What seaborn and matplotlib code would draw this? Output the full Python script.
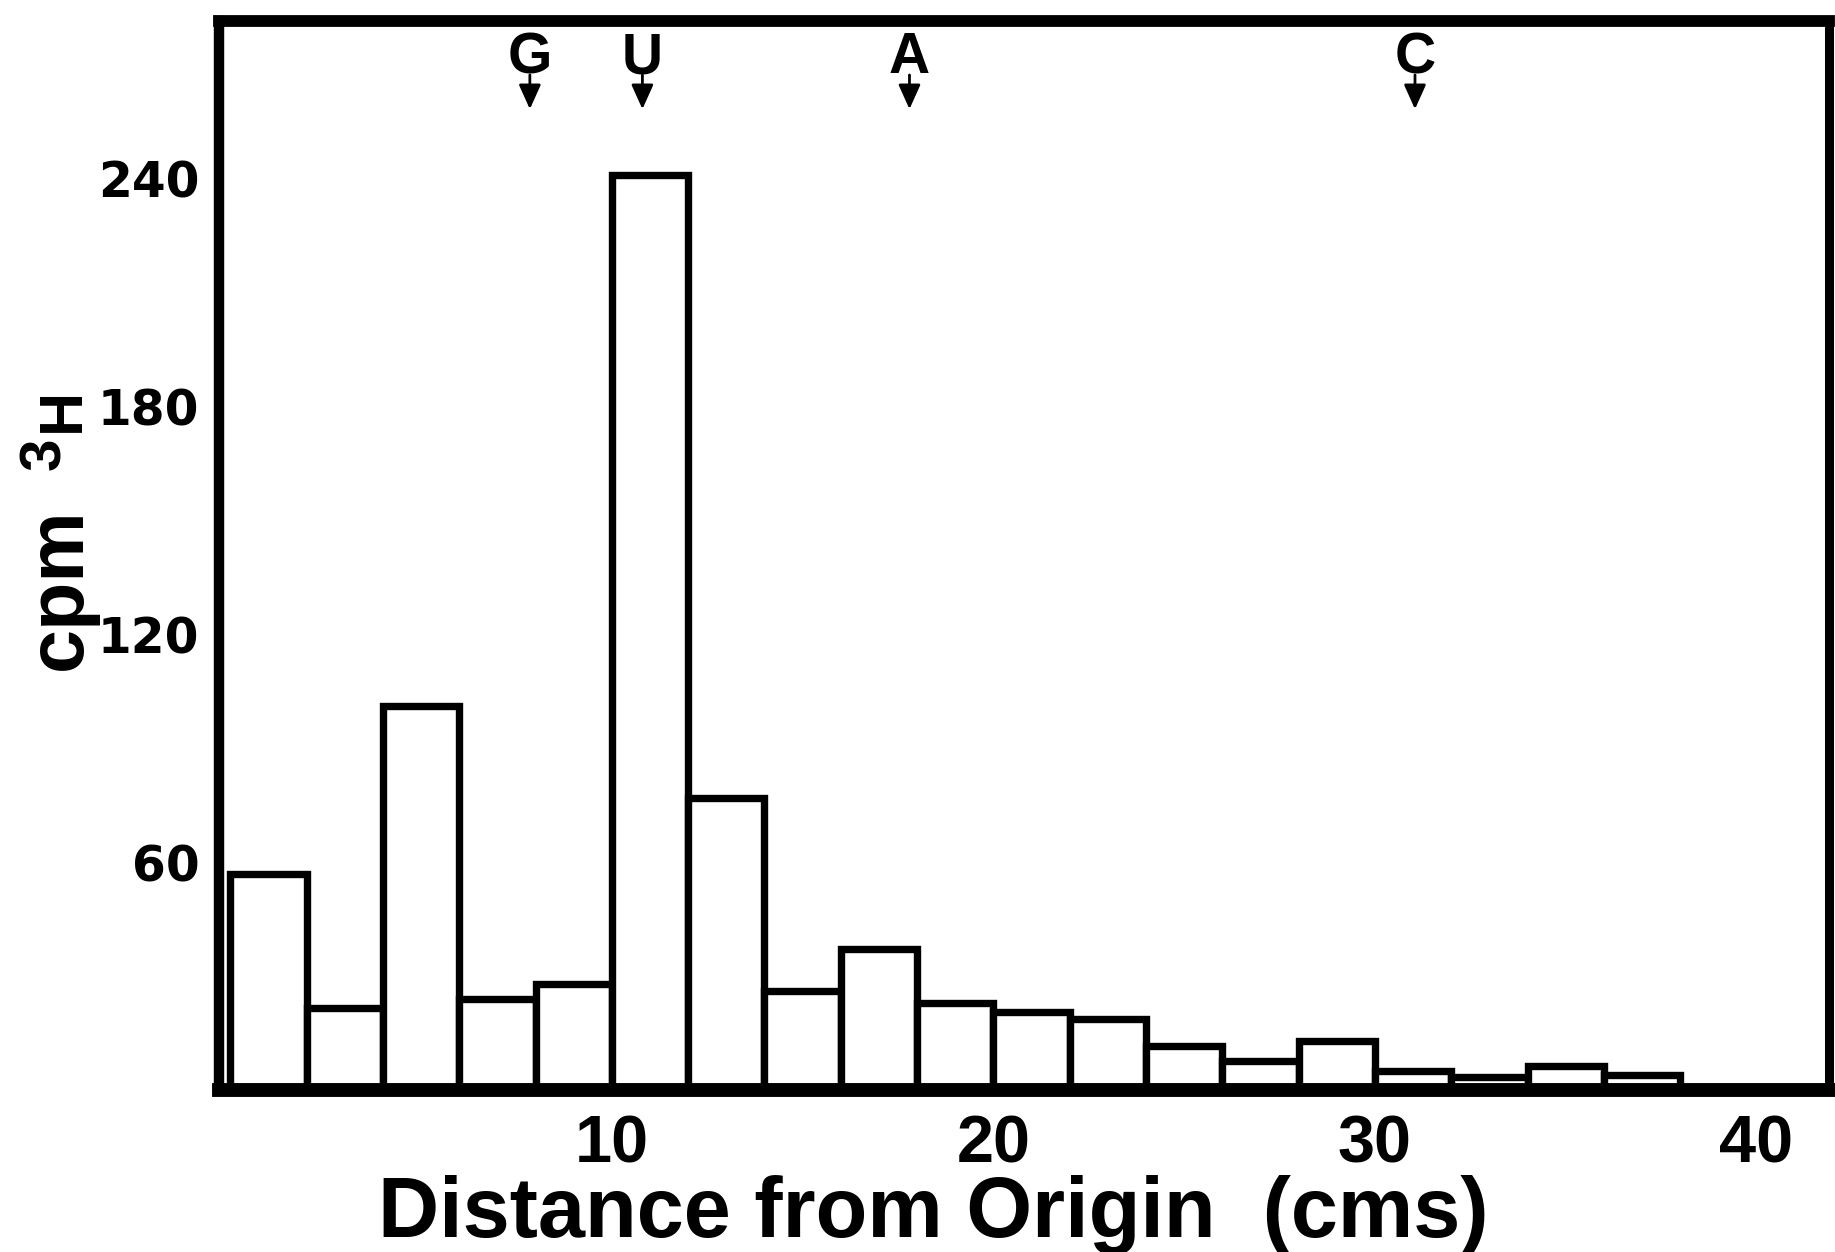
import matplotlib
matplotlib.use("Agg")
import matplotlib.pyplot as plt
import seaborn as sns
import numpy as np
import pandas as pd

# ---- data ----
bin_start_cm = [0, 2, 4, 6, 8, 10, 12, 14, 16, 18, 20, 22, 24, 26, 28, 30, 32, 34, 36]
bin_width_cm = 2
cpm_3H = [57, 21.5, 101, 24, 28, 241, 77, 26, 37, 23, 20.5, 18.7, 11.7, 7.7, 13, 5, 3.4, 6.4, 4]
x_ticks = [10, 20, 30, 40]
y_ticks = [60, 120, 180, 240]
marker_labels = ["G", "U", "A", "C"]
marker_pos_cm = [7.85, 10.8, 17.8, 31.05]

df = pd.DataFrame({
    "center": [s + bin_width_cm / 2 for s in bin_start_cm],
    "cpm": cpm_3H,
})
edges = bin_start_cm + [bin_start_cm[-1] + bin_width_cm]

sns.set_style("white")
plt.rcParams["font.family"] = ["Liberation Sans", "DejaVu Sans"]
for k in ["text.color", "axes.labelcolor", "xtick.color", "ytick.color", "axes.edgecolor"]:
    plt.rcParams[k] = "black"

fig = plt.figure(figsize=(18.35, 12.52), dpi=100, facecolor="white")
ax = fig.add_axes([0.1193, 0.1294, 0.9967 - 0.1193, 0.9832 - 0.1294])

sns.histplot(data=df, x="center", weights="cpm", bins=edges, ax=ax,
             color="white", edgecolor="black", linewidth=5.3, alpha=1.0)

ax.set_xlim(-0.3, 41.9)
ax.set_ylim(0, 281.5)

# spines
for side, lw in [("left", 7.5), ("right", 6.5), ("top", 8.5), ("bottom", 10)]:
    ax.spines[side].set_visible(True)
    ax.spines[side].set_linewidth(lw)
    ax.spines[side].set_color("black")

ax.set_xticks(x_ticks)
ax.set_xticklabels([str(t) for t in x_ticks], fontsize=48, fontweight="bold",
                   family=["Liberation Sans", "DejaVu Sans"])
ax.set_yticks(y_ticks)
ax.set_yticklabels([str(t) for t in y_ticks], fontsize=35, fontweight="bold",
                   family=["DejaVu Sans"])
ax.tick_params(axis="x", length=0, pad=18)
ax.tick_params(axis="y", length=0, pad=14)
ax.grid(False)

# x label
ax.set_xlabel("Distance from Origin  (cms)", fontsize=61, fontweight="bold",
              va="baseline", ha="center")
ax.xaxis.set_label_coords(0.4435, -0.1375)

# y label: "cpm" + superscript 3 + H
ax.set_ylabel("cpm", fontsize=57, fontweight="bold", rotation=90,
              rotation_mode="anchor", ha="left", va="baseline")
ax.yaxis.set_label_coords(-0.0855, 0.3929)
fig.text(0.0330, 0.6246, "3", fontsize=42, fontweight="bold", rotation=90,
         rotation_mode="anchor", ha="left", va="baseline")
fig.text(0.0428, 0.6550, "H", fontsize=44, fontweight="bold", rotation=90,
         rotation_mode="anchor", ha="left", va="baseline")

# nucleotide markers with arrows
for lab, xp in zip(marker_labels, marker_pos_cm):
    ax.text(xp, 267.8, lab, ha="center", va="baseline", fontsize=41,
            fontweight="bold")
    ax.annotate("", xy=(xp, 258.3), xytext=(xp, 267.3),
                arrowprops=dict(arrowstyle="-|>,head_length=1.0,head_width=0.45",
                                mutation_scale=15, lw=2, color="black",
                                shrinkA=0, shrinkB=0))

fig.savefig("out.png", dpi=100, facecolor="white")
